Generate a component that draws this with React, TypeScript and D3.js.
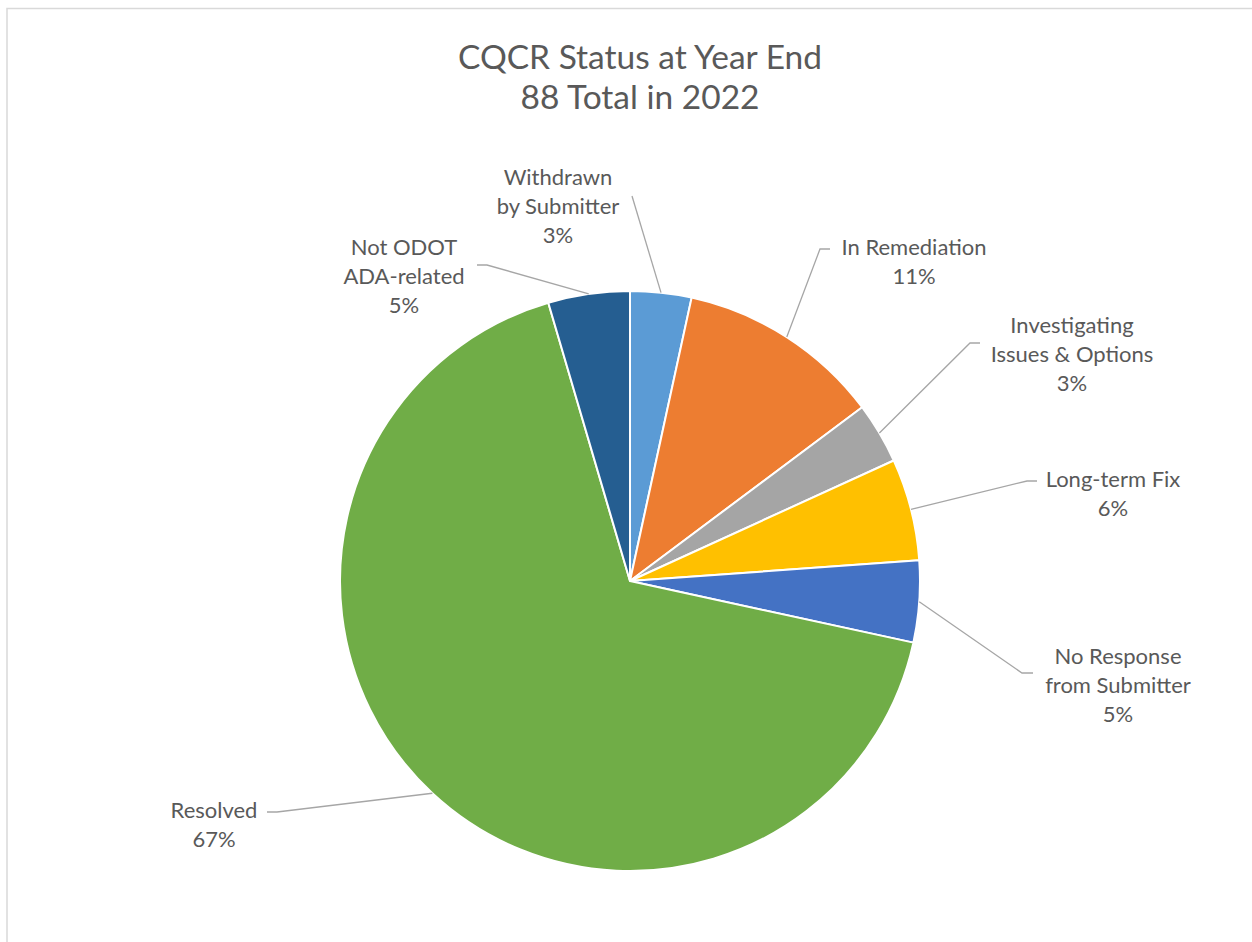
import { useEffect, useRef } from 'react';
import * as d3 from 'd3';

// counts (88 total), clockwise from 12 o'clock
const categories = [
  'Withdrawn by Submitter',
  'In Remediation',
  'Investigating Issues & Options',
  'Long-term Fix',
  'No Response from Submitter',
  'Resolved',
  'Not ODOT ADA-related',
];
const counts = [3, 10, 3, 5, 4, 59, 4];
const labelLines = [
  ['Withdrawn', 'by Submitter'],
  ['In Remediation'],
  ['Investigating', 'Issues & Options'],
  ['Long-term Fix'],
  ['No Response', 'from Submitter'],
  ['Resolved'],
  ['Not ODOT', 'ADA-related'],
];
const titleLines = ['CQCR Status at Year End', '88 Total in 2022'];

const colors = ['#5B9BD5', '#ED7D31', '#A5A5A5', '#FFC000', '#4472C4', '#70AD47', '#255E91'];

// manual label placement (like excel's dragged labels): text centre, first baseline, leader elbow
const labelLayout = [
  { cx: 558, y: 185, ex: 632, ey: 196, hx: 0 },
  { cx: 914, y: 255, ex: 820, ey: 249, hx: 10 },
  { cx: 1072, y: 333, ex: 970, ey: 343, hx: 10 },
  { cx: 1113, y: 487, ex: 1027, ey: 481, hx: 10 },
  { cx: 1118, y: 664, ex: 1022, ey: 673, hx: 11 },
  { cx: 214, y: 818, ex: 277, ey: 812, hx: -10 },
  { cx: 404, y: 255, ex: 487, ey: 265, hx: -10 },
];

const width = 1252;
const height = 942;
const cx = 630;
const cy = 581;
const radius = 290;
const font = 'Lato, "Open Sans", sans-serif';
const textColor = '#595959';

const App = () => {
  const svgRef = useRef<SVGSVGElement>(null!);

  useEffect(() => {
    const svg = d3.select(svgRef.current);
    svg.selectAll('*').remove();
    svg.attr('width', width).attr('height', height);

    svg
      .append('rect')
      .attr('width', width)
      .attr('height', height)
      .attr('fill', '#fff');

    // chart frame, runs off the right and bottom of the picture
    svg
      .append('rect')
      .attr('x', 7)
      .attr('y', 8.5)
      .attr('width', width + 20)
      .attr('height', height + 20)
      .attr('fill', 'none')
      .attr('stroke', '#d9d9d9')
      .attr('stroke-width', 1.5);

    const total = d3.sum(counts);
    const pie = d3
      .pie<number>()
      .sort(null)
      .value(d => d);
    const arcs = pie(counts);
    const arc = d3
      .arc<d3.PieArcDatum<number>>()
      .innerRadius(0)
      .outerRadius(radius);

    const g = svg.append('g').attr('transform', `translate(${cx},${cy})`);
    g.selectAll('path')
      .data(arcs)
      .enter()
      .append('path')
      .attr('d', arc)
      .attr('fill', (_, i) => colors[i])
      .attr('stroke', '#fff')
      .attr('stroke-width', 2)
      .attr('stroke-linejoin', 'round');

    // leader lines
    arcs.forEach((a, i) => {
      const mid = (a.startAngle + a.endAngle) / 2;
      const sx = cx + radius * Math.sin(mid);
      const sy = cy - radius * Math.cos(mid);
      const l = labelLayout[i];
      const pts: [number, number][] = [
        [sx, sy],
        [l.ex, l.ey],
      ];
      if (l.hx) pts.push([l.ex + l.hx, l.ey]);
      svg
        .append('path')
        .attr('d', d3.line()(pts))
        .attr('fill', 'none')
        .attr('stroke', '#a6a6a6')
        .attr('stroke-width', 1.3);
    });

    // data labels
    arcs.forEach((a, i) => {
      const l = labelLayout[i];
      const pct = `${Math.round((a.value / total) * 100)}%`;
      const lines = [...labelLines[i], pct];
      const t = svg
        .append('text')
        .attr('text-anchor', 'middle')
        .attr('font-family', font)
        .attr('font-size', 22)
        .attr('fill', textColor);
      lines.forEach((s, k) => {
        t.append('tspan')
          .attr('x', l.cx)
          .attr('y', l.y + k * 29)
          .text(s);
      });
      t.append('title').text(categories[i]);
    });

    // title
    const title = svg
      .append('text')
      .attr('text-anchor', 'middle')
      .attr('font-family', font)
      .attr('font-size', 33.5)
      .attr('fill', textColor);
    titleLines.forEach((s, k) => {
      title
        .append('tspan')
        .attr('x', 640)
        .attr('y', 69 + k * 40)
        .text(s);
    });
  }, []);

  return (
    <div style={{ position: 'absolute', left: 0, top: 0, width, height, overflow: 'hidden' }}>
      <svg ref={svgRef} style={{ display: 'block' }}></svg>
    </div>
  );
};

export default App;
